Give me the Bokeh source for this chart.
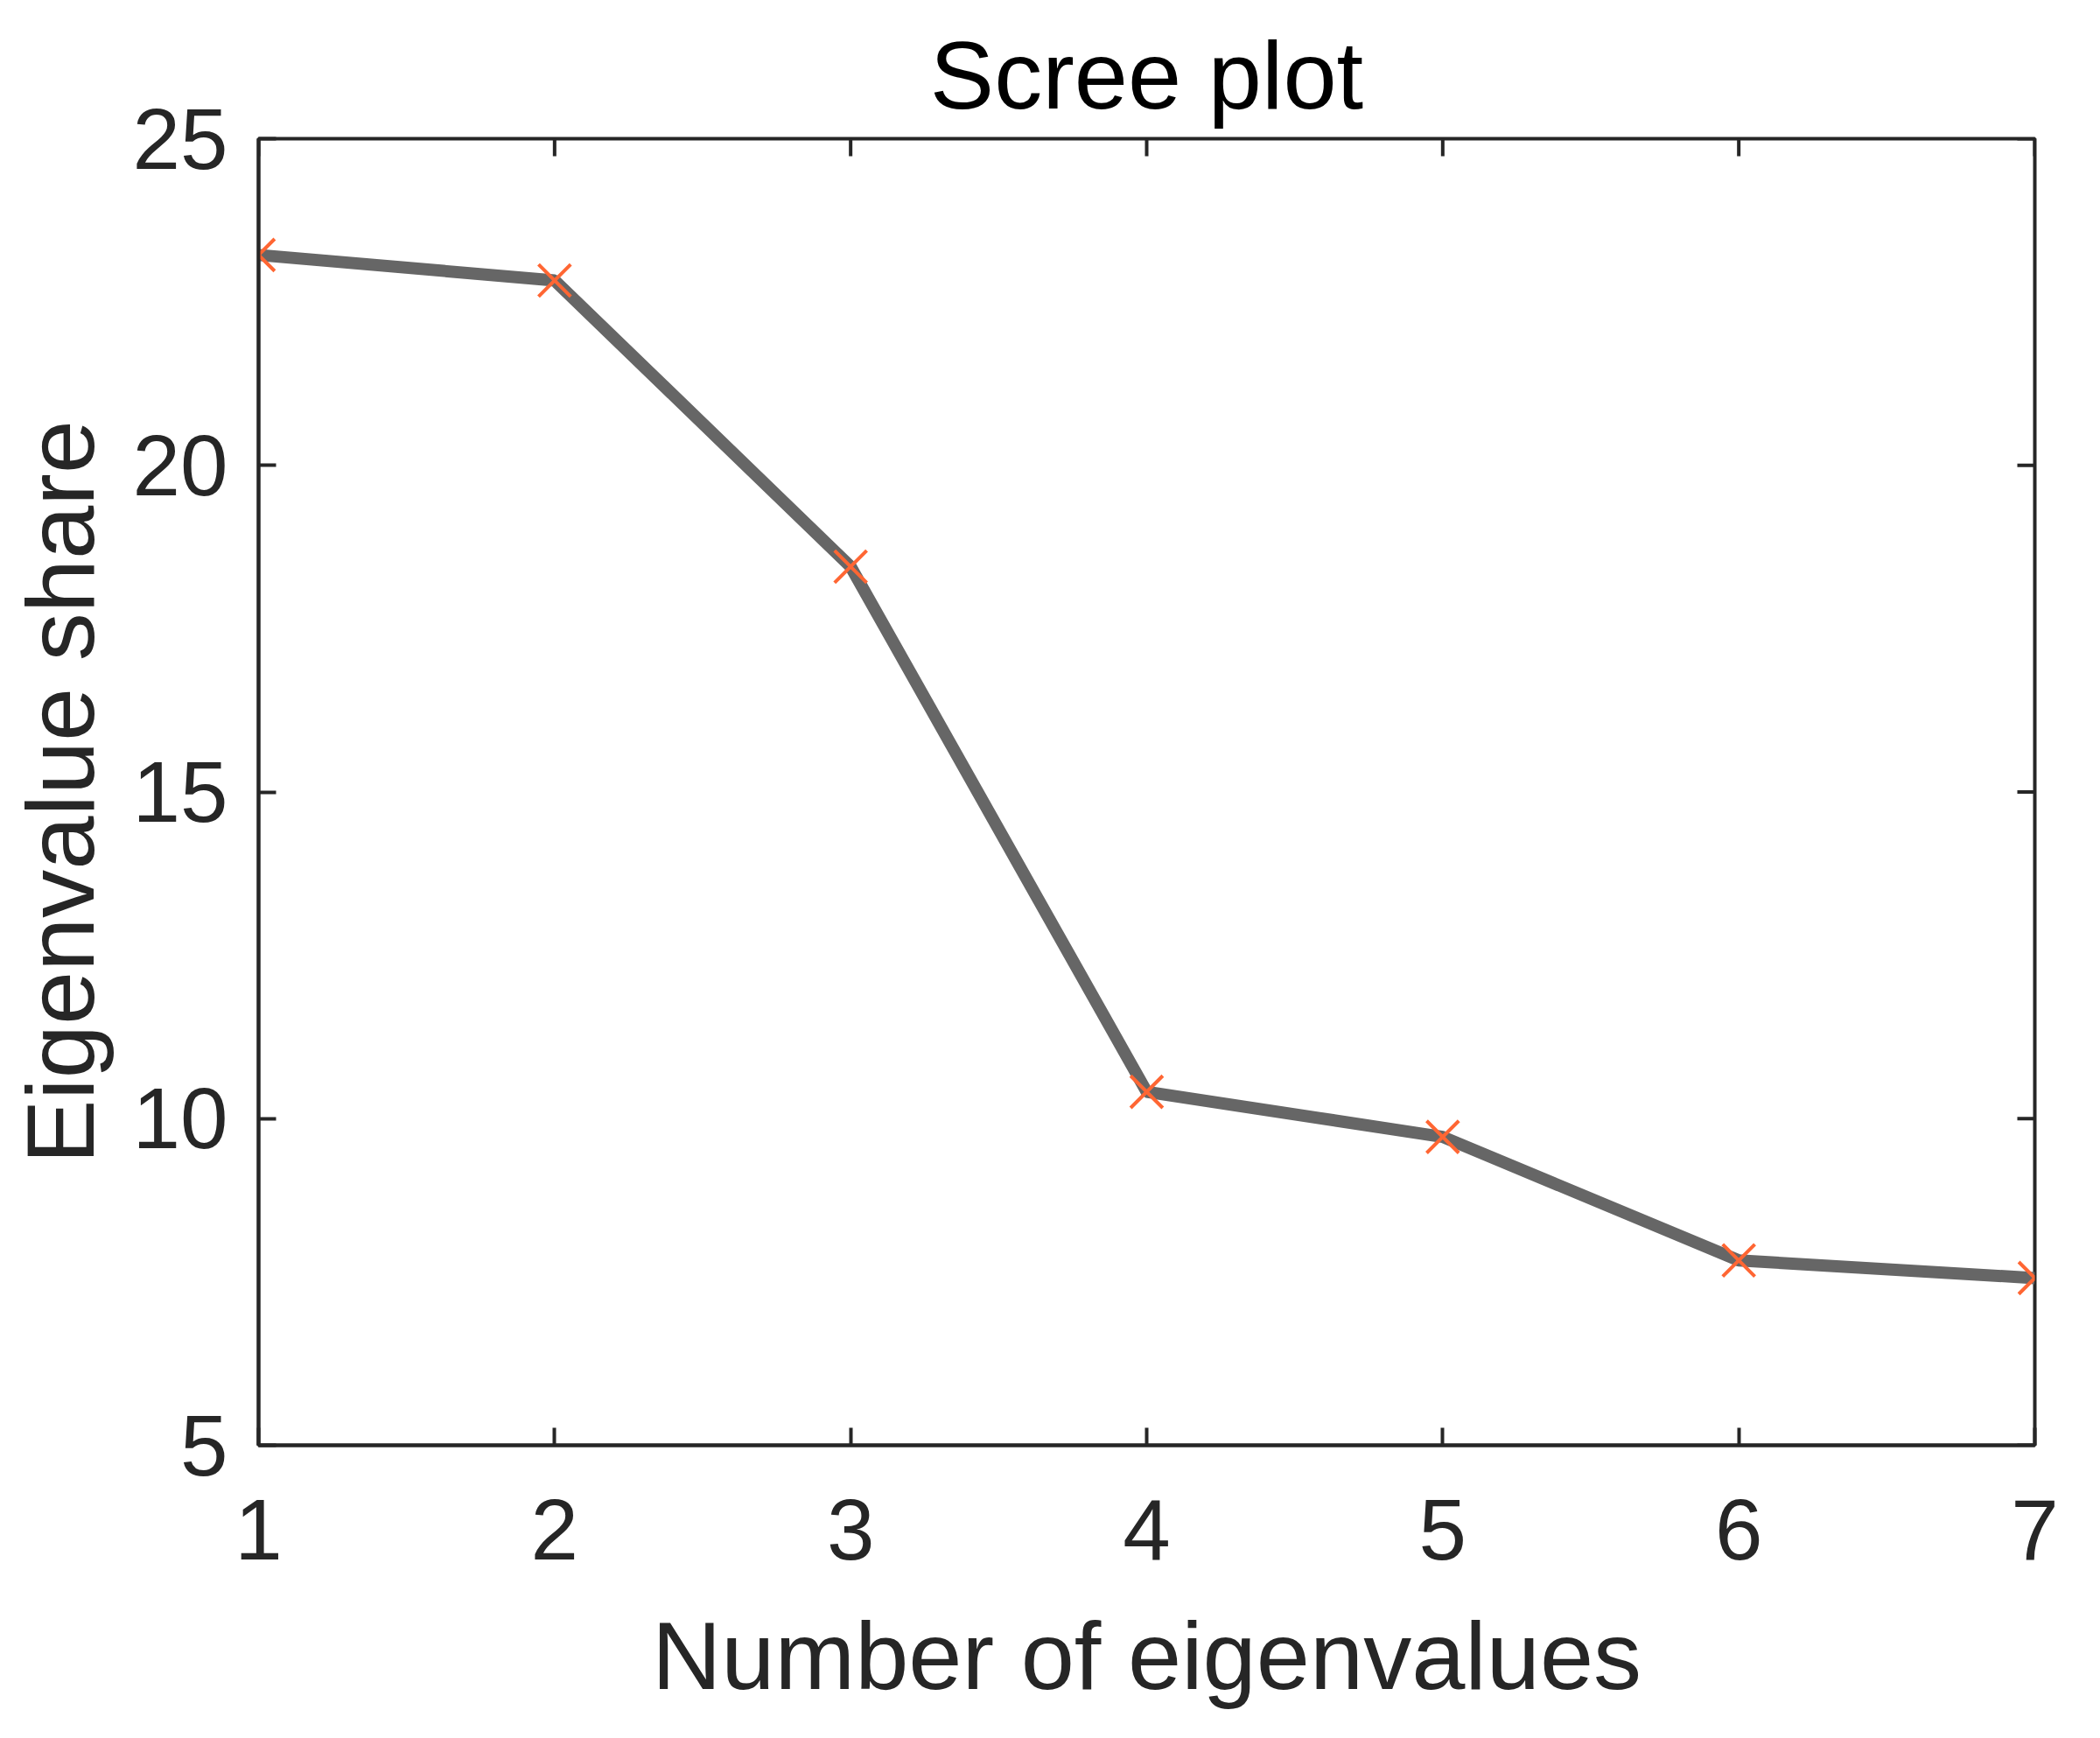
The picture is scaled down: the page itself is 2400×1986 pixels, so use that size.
import math
from bokeh.plotting import figure
from bokeh.models import Range1d, FixedTicker, ColumnDataSource
from bokeh.embed import file_html
from bokeh.resources import INLINE

# Data
components = [1, 2, 3, 4, 5, 6, 7]
eigen_share = [23.22, 22.83, 18.45, 10.41, 9.72, 7.83, 7.56]
x_ticks = [1, 2, 3, 4, 5, 6, 7]
y_ticks = [5, 10, 15, 20, 25]

FONT = "Liberation Sans"
DARK = "#262626"

x_lo, x_hi = x_ticks[0], x_ticks[-1]
y_lo, y_hi = y_ticks[0], y_ticks[-1]

src = ColumnDataSource(dict(x=components, y=eigen_share))

p = figure(width=2384, height=1970, output_backend="svg", toolbar_location=None,
           x_range=Range1d(x_lo, x_hi), y_range=Range1d(y_lo, y_hi),
           min_border_left=295, min_border_right=59, min_border_top=158,
           min_border_bottom=319, title="Scree plot")

p.background_fill_color = "white"
p.border_fill_color = "white"
p.outline_line_color = DARK
p.outline_line_width = 4
p.grid.visible = False

p.title.text_font = FONT
p.title.text_font_size = "110px"
p.title.text_font_style = "normal"
p.title.text_color = "black"
p.title.align = "center"
p.title.standoff = 24

def style_axis(ax):
    ax.axis_line_color = DARK
    ax.axis_line_width = 4
    ax.major_tick_line_color = DARK
    ax.major_tick_line_width = 4
    ax.major_tick_in = 20
    ax.major_tick_out = 0
    ax.minor_tick_line_color = None
    ax.major_label_text_font = FONT
    ax.major_label_text_font_size = "98px"
    ax.major_label_text_color = DARK
    ax.axis_label_text_font = FONT
    ax.axis_label_text_font_size = "110px"
    ax.axis_label_text_font_style = "normal"
    ax.axis_label_text_color = DARK

xa = p.xaxis[0]
ya = p.yaxis[0]
xa.ticker = FixedTicker(ticks=x_ticks)
ya.ticker = FixedTicker(ticks=y_ticks)
style_axis(xa)
style_axis(ya)
xa.axis_label = "Number of eigenvalues"
ya.axis_label = "Eigenvalue share"
xa.major_label_standoff = 62
xa.axis_label_standoff = 45
ya.major_label_standoff = 35
ya.axis_label_standoff = 18

# mirrored inward ticks on the top and right edges
p.ray(x=x_ticks, y=[y_hi] * len(x_ticks), length=20, length_units="screen",
      angle=-math.pi / 2, line_color=DARK, line_width=4)
p.ray(x=[x_hi] * len(y_ticks), y=y_ticks, length=20, length_units="screen",
      angle=math.pi, line_color=DARK, line_width=4)

p.line("x", "y", source=src, line_color="#666666", line_width=14)
p.scatter("x", "y", source=src, marker="x", size=52, line_color="#FF6633", line_width=4)

open("out.html", "w").write(file_html(p, INLINE))
